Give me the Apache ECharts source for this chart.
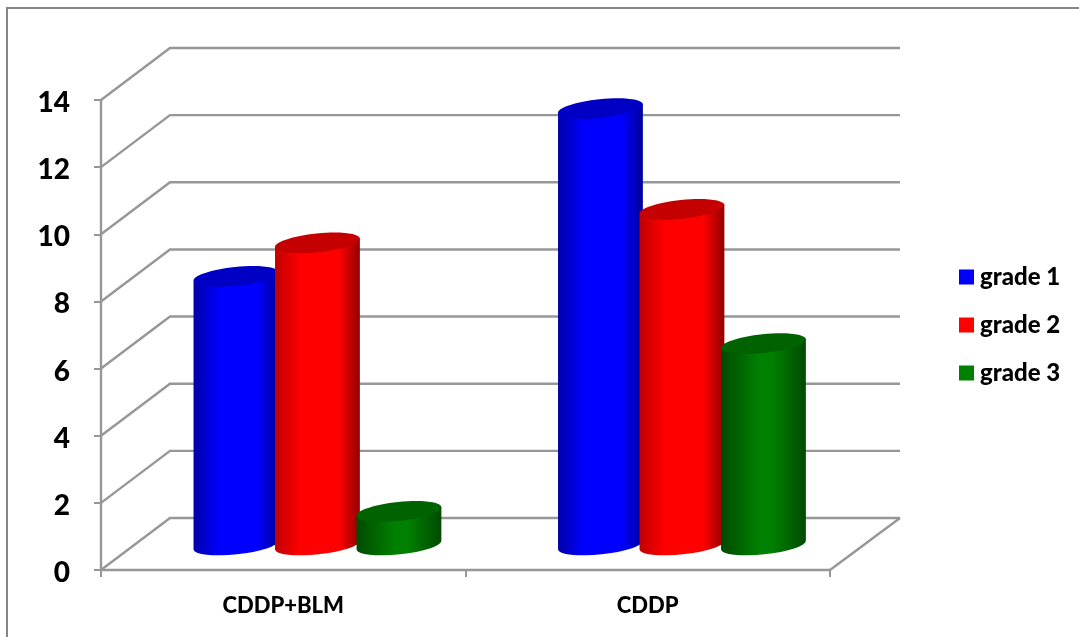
<!DOCTYPE html>
<html>
<head>
<meta charset="utf-8">
<style>html,body{margin:0;padding:0;background:#fff}#c{width:1079px;height:637px}</style>
<script src="https://cdn.jsdelivr.net/npm/echarts@6/dist/echarts.min.js"></script>
</head>
<body>
<div id="c"></div>
<script>
const categories = ['CDDP+BLM', 'CDDP'];
const seriesNames = ['grade 1', 'grade 2', 'grade 3'];
const grade1 = [8, 13];
const grade2 = [9, 10];
const grade3 = [1, 6];
const yTicks = [0, 2, 4, 6, 8, 10, 12, 14];

const palette = [
  { solid: '#0000ff', top: '#0000c4', edgeL: '#0000a8', edgeR: '#00009a', s1: 0.3, s2: 0.75 },
  { solid: '#ff0000', top: '#c40000', edgeL: '#c00000', edgeR: '#900000', s1: 0.3, s2: 0.75 },
  { solid: '#008000', top: '#006200', edgeL: '#004a00', edgeR: '#004a00', s1: 0.45, s2: 0.6 }
];
const depthX = 34.2, depthY = -25;
const wallX = 69, wallY = -52;
const barFrac = 0.234, stepFrac = 0.2236;
const ry = 9.4, tiltDeg = -6;
const font = 'Lato, "Open Sans", sans-serif';
const lineGrey = '#979797';

function cylinder(idx) {
  return function (params, api) {
    const band = api.size([1, 0])[0];
    const rx = band * barFrac / 2;
    const off = (idx - 1) * band * stepFrac;
    const topP = api.coord([api.value(0), api.value(1)]);
    const baseP = api.coord([api.value(0), 0]);
    const cx = topP[0] + off + depthX;
    const ty = topP[1] + depthY;
    const by = baseP[1] + depthY;
    const t = tiltDeg * Math.PI / 180;
    const dx = rx * Math.cos(t), dy = rx * Math.sin(t);
    const p = palette[idx];
    const body = 'M' + (cx - dx) + ' ' + (ty - dy) +
      ' L' + (cx - dx) + ' ' + (by - dy) +
      ' A' + rx + ' ' + ry + ' ' + tiltDeg + ' 0 0 ' + (cx + dx) + ' ' + (by + dy) +
      ' L' + (cx + dx) + ' ' + (ty + dy) + ' Z';
    return {
      type: 'group',
      children: [
        {
          type: 'path',
          shape: { pathData: body },
          style: {
            fill: new echarts.graphic.LinearGradient(0, 0, 1, 0, [
              { offset: 0, color: p.edgeL },
              { offset: p.s1, color: p.solid },
              { offset: p.s2, color: p.solid },
              { offset: 1, color: p.edgeR }
            ])
          }
        },
        {
          type: 'ellipse',
          x: cx, y: ty, rotation: -tiltDeg * Math.PI / 180,
          originX: 0, originY: 0,
          shape: { cx: 0, cy: 0, rx: rx, ry: ry },
          style: { fill: p.top }
        }
      ]
    };
  };
}

function wallLine(params, api) {
  const cs = params.coordSys;
  const v = api.value(1);
  const y = api.coord([0, v])[1];
  const x0 = cs.x, x1 = cs.x + cs.width;
  const style = { stroke: lineGrey, lineWidth: 2.4, fill: null };
  const kids = [{
    type: 'polyline',
    shape: { points: [[x0, y], [x0 + wallX, y + wallY], [x1 + wallX + 1, y + wallY]] },
    style: style
  }];
  if (v === 0) {
    kids.push({
      type: 'line',
      shape: { x1: x1, y1: y, x2: x1 + wallX + 1, y2: y + wallY },
      style: style
    });
  }
  return { type: 'group', children: kids };
}

const values = [grade1, grade2, grade3];
const chart = echarts.init(document.getElementById('c'), null, { renderer: 'canvas' });
chart.setOption({
  animation: false,
  backgroundColor: '#ffffff',
  graphic: [{
    type: 'polyline', silent: true, z: -1,
    shape: { points: [[7, 637], [7, 8], [1079, 8]] },
    style: { fill: null, stroke: '#868686', lineWidth: 2 }
  }],
  grid: { left: 101, top: 100, width: 729, height: 470, containLabel: false },
  legend: {
    data: seriesNames,
    orient: 'vertical',
    left: 959, top: 265,
    padding: 0,
    itemWidth: 15, itemHeight: 15, itemGap: 24,
    icon: 'rect',
    selectedMode: false,
    textStyle: { fontFamily: font, fontWeight: 900, fontSize: 24, color: '#000', padding: [0, 0, 0, 1] }
  },
  xAxis: {
    type: 'category',
    data: categories,
    axisLine: { lineStyle: { color: lineGrey, width: 2.4 } },
    axisTick: { show: true, length: 7, lineStyle: { color: lineGrey, width: 2 } },
    axisLabel: { margin: 25, fontFamily: font, fontWeight: 900, fontSize: 22, color: '#000' }
  },
  yAxis: {
    type: 'value',
    min: 0, max: 14, interval: 2,
    splitLine: { show: false },
    axisLine: { show: true, lineStyle: { color: lineGrey, width: 2.4 } },
    axisTick: { show: true, length: 7, lineStyle: { color: lineGrey, width: 2 } },
    axisLabel: {
      margin: 31,
      formatter: '{t|{value}}',
      rich: { t: { padding: [6, 0, 0, 0], fontFamily: font, fontWeight: 900, fontSize: 28, color: '#000' } }
    }
  },
  series: [
    {
      type: 'custom', name: 'walls', silent: true, z: 1,
      data: yTicks.map(v => [0, v]),
      renderItem: wallLine,
      clip: false
    }
  ].concat(seriesNames.map((n, i) => ({
    type: 'custom',
    name: n,
    z: 2 + i,
    clip: false,
    itemStyle: { color: palette[i].solid },
    encode: { x: 0, y: 1 },
    data: values[i].map((v, c) => [c, v]),
    renderItem: cylinder(i)
  })))
});
</script>
</body>
</html>
